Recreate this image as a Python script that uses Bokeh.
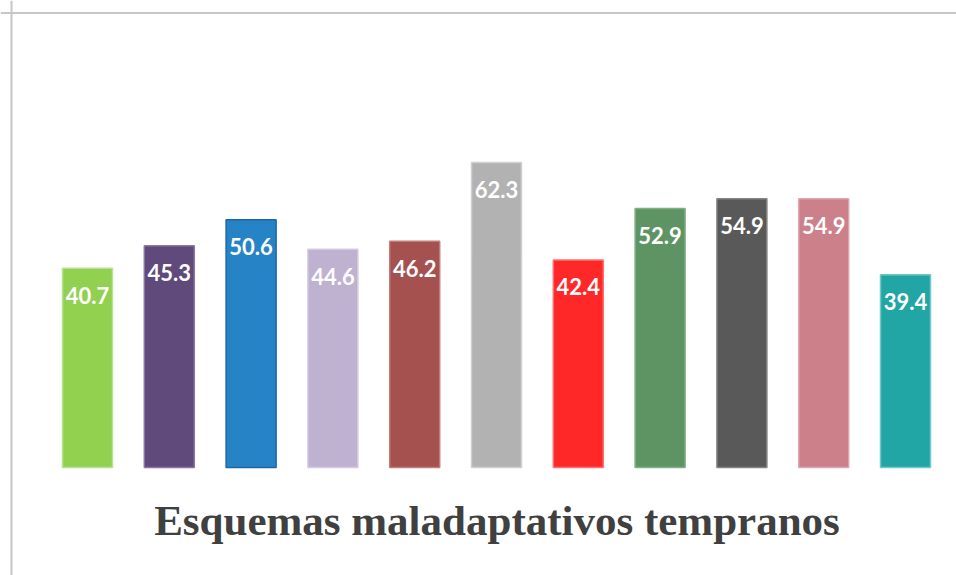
from bokeh.plotting import figure
from bokeh.models import ColumnDataSource, LabelSet, Label, Range1d, Span
from bokeh.core.properties import value
from bokeh.embed import file_html
from bokeh.resources import INLINE

# ---- data ----
values = [40.7, 45.3, 50.6, 44.6, 46.2, 62.3, 42.4, 52.9, 54.9, 54.9, 39.4]
labels = ["40.7", "45.3", "50.6", "44.6", "46.2", "62.3", "42.4", "52.9", "54.9", "54.9", "39.4"]
fill_colors = ["#92D050", "#604A7B", "#2683C6", "#BFB1D0", "#A5514F", "#B2B2B2",
               "#FF2828", "#5E9464", "#595959", "#CC808A", "#22A5A5"]
line_colors = ["#B9E193", "#8A76A0", "#1C67A3", "#D5CBE1", "#C07C7A", "#D0D0D0",
               "#FF7070", "#80B086", "#858585", "#DDA7AF", "#6FC9C9"]
title_text = "Esquemas maladaptativos tempranos"

W, H = 956, 575
# pixel mapping (canvas px)
x0_px, x_step = 87.0, 81.8      # center of first bar, spacing
y0_px, y_scale = 467.0, 4.895   # baseline, px per unit

x_start = -x0_px / x_step
x_end = (W - x0_px) / x_step
y_end = y0_px / y_scale
y_start = -(H - y0_px) / y_scale

xs = list(range(len(values)))
src = ColumnDataSource(dict(x=xs, top=values, fill=fill_colors, line=line_colors, lab=labels))

p = figure(width=W, height=H, output_backend="svg", toolbar_location=None,
           x_range=Range1d(x_start, x_end), y_range=Range1d(y_start, y_end),
           min_border=0, min_border_left=0, min_border_right=0,
           min_border_top=0, min_border_bottom=0)
p.xaxis.visible = False
p.yaxis.visible = False
p.grid.visible = False
p.outline_line_color = None
p.background_fill_color = "white"
p.border_fill_color = "white"

p.vbar(x="x", top="top", bottom=0, width=50 / x_step, fill_color="fill",
       line_color="line", line_width=1.5, source=src)

p.add_layout(LabelSet(x="x", y="top", text="lab", source=src, y_offset=-27,
                      text_align="center", text_baseline="middle",
                      text_color="white", text_font=value("Lato"),
                      text_font_style="bold", text_font_size="22px"))

p.add_layout(Label(x=496.5, y=H - 520, x_units="screen", y_units="screen",
                   text=title_text, text_align="center", text_baseline="middle",
                   text_font="Liberation Serif", text_font_style="bold",
                   text_font_size="43px", text_color="#404040"))

# chart area border (top and left edges visible)
p.add_layout(Span(location=(y0_px - 12.5) / y_scale, dimension="width",
                  line_color="#C6C6C6", line_width=2))
p.add_layout(Span(location=(11.0 - x0_px) / x_step, dimension="height",
                  line_color="#C6C6C6", line_width=2))

open("out.html", "w").write(file_html(p, INLINE))
